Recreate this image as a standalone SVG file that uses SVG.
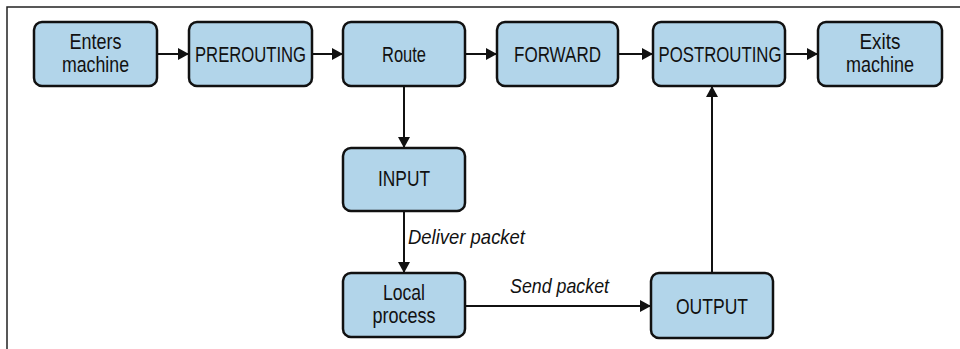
<svg xmlns="http://www.w3.org/2000/svg" width="960" height="349" viewBox="0 0 960 349">
<defs>
<marker id="ah" markerWidth="11" markerHeight="12" refX="11" refY="6" orient="auto" markerUnits="userSpaceOnUse">
<path d="M0,0 L11,6 L0,12 Z" fill="#111"/>
</marker>
<style>
.box{fill:#b2d5ea;stroke:#111;stroke-width:2.5}
.lbl{font-family:"Liberation Sans",Arial,sans-serif;font-size:22px;fill:#111;text-anchor:middle}
.edge{stroke:#111;stroke-width:2;fill:none;marker-end:url(#ah)}
.elbl{font-family:"Liberation Sans",Arial,sans-serif;font-style:italic;font-size:21px;fill:#111}
.frame{stroke:#222;stroke-width:1.5;fill:none}
</style>
</defs>
<rect width="960" height="349" fill="#fff"/>
<path class="frame" d="M7,349 V7 H960"/>
<g id="connectors">
<line class="edge" x1="157" y1="54" x2="189" y2="54"/>
<line class="edge" x1="312" y1="54" x2="343" y2="54"/>
<line class="edge" x1="465" y1="54" x2="497" y2="54"/>
<line class="edge" x1="618" y1="54" x2="653" y2="54"/>
<line class="edge" x1="785" y1="54" x2="818" y2="54"/>
<line class="edge" x1="404" y1="86" x2="404" y2="148"/>
<line class="edge" x1="404" y1="211" x2="404" y2="273"/>
<line class="edge" x1="465" y1="306" x2="651" y2="306"/>
<line class="edge" x1="712" y1="273" x2="712" y2="86"/>
<text class="elbl" x="408" y="244" textLength="117" lengthAdjust="spacingAndGlyphs">Deliver packet</text>
<text class="elbl" x="510" y="293" textLength="99" lengthAdjust="spacingAndGlyphs">Send packet</text>
</g>
<g id="enters">
<rect class="box" x="34" y="22" width="123" height="64" rx="8"/>
<text class="lbl"><tspan x="95.5" y="49" textLength="52" lengthAdjust="spacingAndGlyphs">Enters</tspan><tspan x="95.5" y="72" textLength="67" lengthAdjust="spacingAndGlyphs">machine</tspan></text>
</g>
<g id="prerouting">
<rect class="box" x="189" y="22" width="123" height="64" rx="8"/>
<text class="lbl" x="250.5" y="62" textLength="111" lengthAdjust="spacingAndGlyphs">PREROUTING</text>
</g>
<g id="route">
<rect class="box" x="343" y="22" width="122" height="64" rx="8"/>
<text class="lbl" x="404" y="62" textLength="44" lengthAdjust="spacingAndGlyphs">Route</text>
</g>
<g id="forward">
<rect class="box" x="497" y="22" width="121" height="64" rx="8"/>
<text class="lbl" x="557.5" y="62" textLength="87" lengthAdjust="spacingAndGlyphs">FORWARD</text>
</g>
<g id="postrouting">
<rect class="box" x="653" y="22" width="132" height="64" rx="8"/>
<text class="lbl" x="720" y="62" textLength="123" lengthAdjust="spacingAndGlyphs">POSTROUTING</text>
</g>
<g id="exits">
<rect class="box" x="818" y="22" width="124" height="64" rx="8"/>
<text class="lbl"><tspan x="880" y="49" textLength="41" lengthAdjust="spacingAndGlyphs">Exits</tspan><tspan x="880" y="72" textLength="68" lengthAdjust="spacingAndGlyphs">machine</tspan></text>
</g>
<g id="input">
<rect class="box" x="343" y="148" width="122" height="63" rx="8"/>
<text class="lbl" x="404" y="186" textLength="52" lengthAdjust="spacingAndGlyphs">INPUT</text>
</g>
<g id="local">
<rect class="box" x="343" y="273" width="122" height="64" rx="8"/>
<text class="lbl"><tspan x="404" y="300" textLength="42" lengthAdjust="spacingAndGlyphs">Local</tspan><tspan x="404" y="323" textLength="63" lengthAdjust="spacingAndGlyphs">process</tspan></text>
</g>
<g id="output">
<rect class="box" x="651" y="273" width="122" height="65" rx="8"/>
<text class="lbl" x="712" y="314" textLength="72" lengthAdjust="spacingAndGlyphs">OUTPUT</text>
</g>
</svg>
